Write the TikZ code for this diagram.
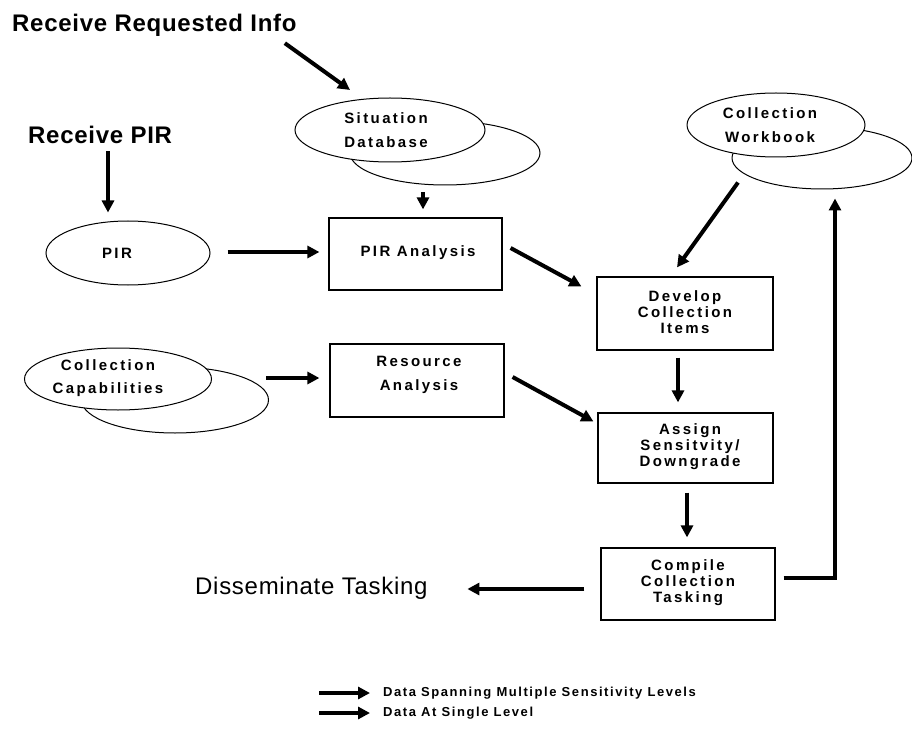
\documentclass[tikz,border=0pt]{standalone}
\usepackage{fontspec}
\setmainfont{Liberation Sans}
\newfontfamily\lblfont[LetterSpace=16]{Liberation Sans}
\newfontfamily\headfont[LetterSpace=3]{Liberation Sans}
\newfontfamily\legfont[LetterSpace=12]{Liberation Sans}
\usetikzlibrary{shapes.geometric,arrows.meta,calc}

\begin{document}
\begin{tikzpicture}[x=1pt,y=-1pt,
  flow/.style={line width=4pt, -{Triangle[length=12pt,width=12pt]}},
  store/.style={ellipse, draw, line width=1pt, fill=white, inner sep=0pt},
  procbox/.style={rectangle, draw, line width=1.2pt, inner sep=0pt},
  boxtext/.style={align=center, inner sep=0pt, font=\lblfont\bfseries\fontsize{15}{16}\selectfont},
  storetext/.style={align=center, inner sep=0pt, font=\lblfont\bfseries\fontsize{15}{23.5}\selectfont},
  headtext/.style={inner sep=0pt, anchor=base west, font=\headfont\bfseries\fontsize{24}{28}\selectfont},
  plaintext/.style={inner sep=0pt, anchor=base west, font=\headfont\fontsize{24}{28}\selectfont},
  legtext/.style={inner sep=0pt, anchor=west, font=\legfont\bfseries\fontsize{13}{15}\selectfont}]

\useasboundingbox[fill=white] (0,0) rectangle (912,743);

% headings
\node[headtext] (rri) at (12,32) {Receive Requested Info};
\node[headtext] (rpir) at (28,144) {Receive PIR};
\node[plaintext] (dis) at (195,594) {Disseminate Tasking};

% data stores (back copies first)
\node[store, minimum width=190, minimum height=64] (sitB) at (445,153) {};
\node[store, minimum width=190, minimum height=64] (sitF) at (390,130) {};
\node[storetext] (sitT) at (386,130) {Situation\\Database};

\node[store, minimum width=180, minimum height=62] (wbB) at (822,158) {};
\node[store, minimum width=178, minimum height=64] (wbF) at (776,125) {};
\node[storetext] (wbT) at (770,125) {Collection\\Workbook};

\node[store, minimum width=187, minimum height=66] (capB) at (175,400) {};
\node[store, minimum width=187, minimum height=62] (capF) at (118,379) {};
\node[storetext] (capT) at (108,378) {Collection\\Capabilities};

\node[store, minimum width=164, minimum height=64] (pir) at (128,253) {};
\node[storetext] (pirT) at (117,253) {PIR};

% processes
\node[procbox, minimum width=173, minimum height=72] (pira) at (415.5,254) {};
\node[boxtext] (piraT) at (418,253) {PIR Analysis};

\node[procbox, minimum width=174, minimum height=73] (res) at (417,380.5) {};
\node[storetext] (resT) at (419,375) {Resource\\Analysis};

\node[procbox, minimum width=176, minimum height=73] (dev) at (685,313.5) {};
\node[boxtext] (devT) at (685,312) {Develop\\Collection\\Items};

\node[procbox, minimum width=175, minimum height=70] (asg) at (685.5,448) {};
\node[boxtext] (asgT) at (690,447) {Assign\\Sensitvity/\\Downgrade};

\node[procbox, minimum width=174, minimum height=72] (cmp) at (688,584) {};
\node[boxtext] (cmpT) at (688,583) {Compile\\Collection\\Tasking};

% flows
\draw[flow] ($(rri.south east)+(-12,6)$) -- ($(sitF.center)+(-40,-40)$);
\draw[flow] ($(pir.north)+(-20,-69)$) -- ($(pir.north)+(-20,-8)$);
\draw[flow] ($(pira.north)+(7.5,-25)$) -- ($(pira.north)+(7.5,-8)$);
\draw[flow] ($(pir.east)+(17,-1)$) -- ($(pira.west)+(-9,-2)$);
\draw[flow] ($(pira.east)+(8,-6)$) -- ($(dev.north west)+(-15,10)$);
\draw[flow] ($(wbF.south)+(-38,25)$) -- ($(dev.north)+(-8,-9)$);
\draw[flow] ($(res.west)+(-63,-2.5)$) -- ($(res.west)+(-10,-2.5)$);
\draw[flow] ($(res.east)+(8,-3.5)$) -- ($(asg.north west)+(-4,9)$);
\draw[flow] ($(dev.south)+(-7,7)$) -- ($(asg.north)+(-7.5,-10)$);
\draw[flow] ($(asg.south)+(1.5,9)$) -- ($(cmp.north)+(-1,-10)$);
\draw[flow] ($(cmp.west)+(-16,5)$) -- ($(cmp.west)+(-133,5)$);
\draw[flow] ($(cmp.east)+(8,-6)$) -| ($(wbB.south)+(13,9)$);

% legend
\node[legtext] (leg1) at (383,693) {Data Spanning Multiple Sensitivity Levels};
\node[legtext] (leg2) at (383,713) {Data At Single Level};
\coordinate (leg1a) at (319,693);
\coordinate (leg2a) at (319,713);
\draw[flow] (leg1a) -- ($(leg1.west)+(-13,0)$);
\draw[flow] (leg2a) -- ($(leg2.west)+(-13,0)$);
\end{tikzpicture}
\end{document}
